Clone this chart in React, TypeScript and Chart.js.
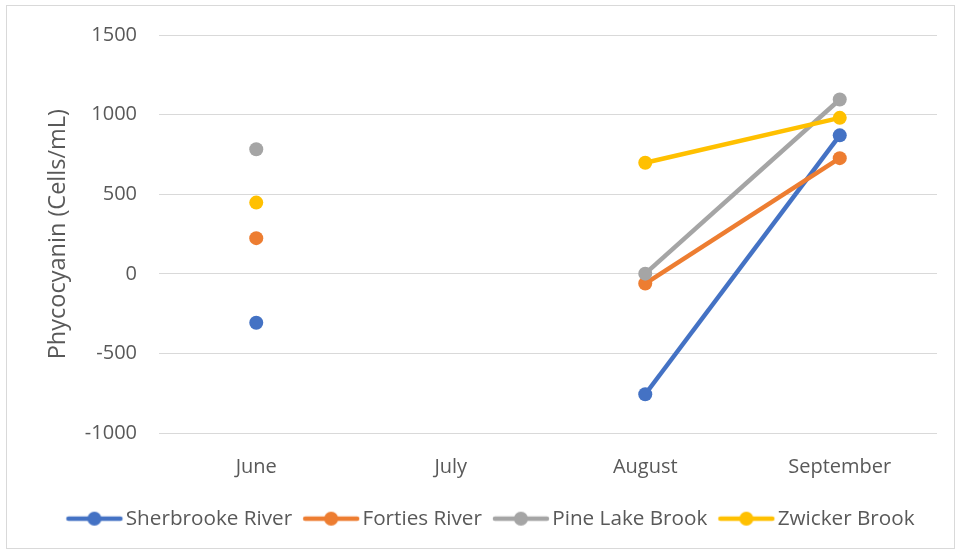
import { useEffect, useRef } from "react";
import { Chart, registerables } from "chart.js";

Chart.register(...registerables);

const months = ["June", "July", "August", "September"];
const sherbrookeRiver = [-306, null, -755, 870];
const fortiesRiver = [225, null, -60, 727];
const pineLakeBrook = [783, null, 2, 1095];
const zwickerBrook = [448, null, 698, 980];
const seriesNames = ["Sherbrooke River", "Forties River", "Pine Lake Brook", "Zwicker Brook"];
const seriesValues = [sherbrookeRiver, fortiesRiver, pineLakeBrook, zwickerBrook];
const seriesColors = ["#4472C4", "#ED7D31", "#A5A5A5", "#FFC000"];
const yMin = -1000;
const yMax = 1500;
const yStep = 500;
const yTitle = "Phycocyanin (Cells/mL)";

const TEXT = "#595959";
const GRID = "#d9d9d9";
const FONT = "'Open Sans', sans-serif";

function legendSymbol(color: string) {
  const c = document.createElement("canvas");
  c.width = 60;
  c.height = 18;
  const ctx = c.getContext("2d")!;
  ctx.strokeStyle = color;
  ctx.lineWidth = 4.5;
  ctx.lineCap = "round";
  ctx.beginPath();
  ctx.moveTo(4, 9);
  ctx.lineTo(56, 9);
  ctx.stroke();
  ctx.fillStyle = color;
  ctx.beginPath();
  ctx.arc(30, 9, 7, 0, Math.PI * 2);
  ctx.fill();
  return c;
}

const borderPlugin = {
  id: "outerBorder",
  afterDraw(chart: any) {
    const ctx = chart.ctx;
    ctx.save();
    ctx.strokeStyle = GRID;
    ctx.lineWidth = 1;
    ctx.strokeRect(6.5, 5.5, 948, 543);
    ctx.restore();
  },
};

export default function App() {
  const ref = useRef<HTMLCanvasElement | null>(null);

  useEffect(() => {
    if (!ref.current) return;
    const symbols = seriesColors.map((c) => legendSymbol(c));
    const chart = new Chart(ref.current, {
      type: "line",
      data: {
        labels: months,
        datasets: seriesNames.map((name, i) => ({
          label: name,
          data: seriesValues[i],
          borderColor: seriesColors[i],
          backgroundColor: seriesColors[i],
          pointBackgroundColor: seriesColors[i],
          pointBorderColor: seriesColors[i],
          borderWidth: 4.5,
          pointRadius: 7,
          pointBorderWidth: 0,
          pointHoverRadius: 7,
          spanGaps: false,
          tension: 0,
          order: seriesNames.length - i,
        })),
      },
      options: {
        animation: false,
        responsive: false,
        maintainAspectRatio: false,
        layout: { padding: { left: 51, right: 23, top: 35, bottom: 15 } },
        plugins: {
          tooltip: { enabled: false },
          legend: {
            display: true,
            position: "bottom",
            labels: {
              usePointStyle: true,
              pointStyleWidth: 42,
              padding: 18,
              color: TEXT,
              font: { family: FONT, size: 20.7 },
              generateLabels: (c: any) =>
                c.data.datasets.map((ds: any, i: number) => ({
                  text: ds.label,
                  fillStyle: seriesColors[i],
                  strokeStyle: seriesColors[i],
                  lineWidth: 0,
                  pointStyle: symbols[i],
                  hidden: false,
                  datasetIndex: i,
                  fontColor: TEXT,
                })),
            },
          },
        },
        scales: {
          x: {
            type: "category",
            offset: true,
            grid: { display: false, drawTicks: false },
            border: { display: false },
            ticks: {
              color: TEXT,
              font: { family: FONT, size: 20 },
              padding: 22,
              maxRotation: 0,
            },
            afterFit: (s: any) => {
              s.height = 57;
            },
          },
          y: {
            min: yMin,
            max: yMax,
            grid: { color: GRID, lineWidth: 1, drawTicks: false },
            border: { display: false },
            ticks: {
              stepSize: yStep,
              color: TEXT,
              font: { family: FONT, size: 20 },
              padding: 22,
              callback: (v: any) => String(v),
            },
            title: {
              display: true,
              text: yTitle,
              color: TEXT,
              font: { family: FONT, size: 23.5, lineHeight: 0.6 },
              padding: { top: 0, bottom: 0 },
            },
            afterFit: (s: any) => {
              s.width = 108;
            },
          },
        },
      },
      plugins: [borderPlugin],
    });
    return () => chart.destroy();
  }, []);

  return (
    <div style={{ position: "absolute", left: 0, top: 0, width: 960, height: 554, background: "#fff" }}>
      <canvas ref={ref} width={960} height={554} style={{ display: "block" }} />
    </div>
  );
}
